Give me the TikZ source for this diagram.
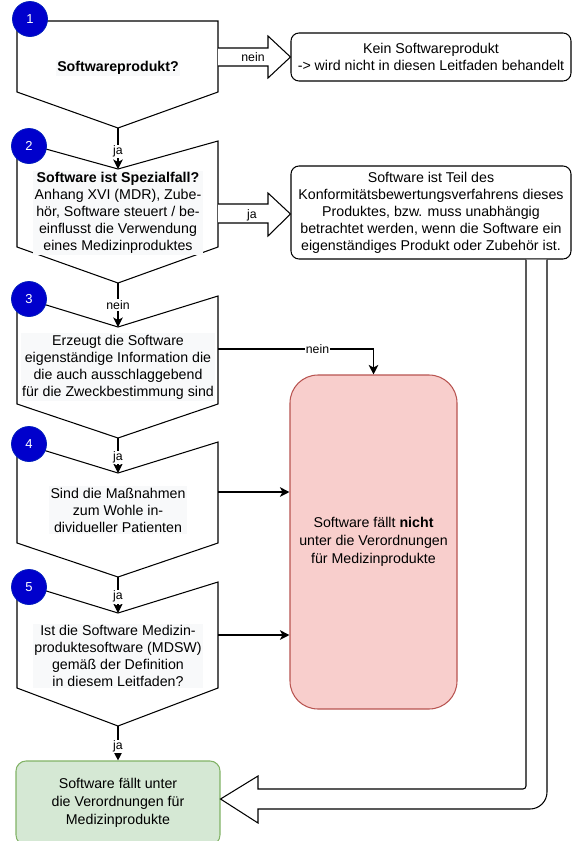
\documentclass[tikz,border=0pt]{standalone}
\usepackage{fontspec}
\setmainfont{Liberation Sans}
\usetikzlibrary{arrows.meta}
\definecolor{badgeblue}{HTML}{0000CC}
\definecolor{badgeedge}{HTML}{001DBC}
\definecolor{redfill}{HTML}{F8CECC}
\definecolor{redline}{HTML}{B85450}
\definecolor{greenfill}{HTML}{D5E8D4}
\definecolor{greenline}{HTML}{82B366}
\definecolor{labelbg}{HTML}{F8F9FA}

\begin{document}
\begin{tikzpicture}[x=1pt,y=-1pt,line join=miter,
  outline/.style={draw=black,line width=1.05pt},
  decision/.style={outline,fill=white},
  qtext/.style={fill=labelbg,inner sep=1.5pt,align=center,
    font=\fontsize{14.2}{17}\selectfont},
  badge/.style={circle,fill=badgeblue,draw=badgeedge,line width=0.8pt,
    minimum size=35pt,inner sep=0pt,text=white,
    font=\fontsize{13}{15}\selectfont},
  flow/.style={line width=1.05pt,-{Stealth[length=9.5pt,width=9.5pt,inset=2.5pt]}},
  edgelabel/.style={fill=white,inner sep=1pt,font=\fontsize{12.3}{14}\selectfont},
  infobox/.style={outline,rounded corners=8pt,fill=white,align=center,
    inner sep=0pt,font=\fontsize{14.2}{17}\selectfont},
  blockarrow/.style={draw=black,line width=1.05pt,fill=white,line join=miter}
]
\useasboundingbox (0,0) rectangle (573,841);
\fill[white] (0,0) rectangle (573,841);

% ---------- decision shapes ----------
\draw[decision] (17,21) -- (218,21) -- (218,92) -- (118,128) -- (17,92) -- cycle;
\draw[decision] (17,141) -- (118,169) -- (218,141) -- (218,247) -- (118,283) -- (17,247) -- cycle;
\draw[decision] (17,296) -- (118,327) -- (218,296) -- (218,404) -- (118,438) -- (17,404) -- cycle;
\draw[decision] (17,442) -- (118,473) -- (218,442) -- (218,543) -- (118,577) -- (17,543) -- cycle;
\draw[decision] (17,582) -- (118,613) -- (218,582) -- (218,688) -- (118,726) -- (17,688) -- cycle;

% tips, notches and side points of the decision shapes
\coordinate (d1tip) at (118,128);
\coordinate (d2top) at (118,169);  \coordinate (d2tip) at (118,283);
\coordinate (d3top) at (118,327);  \coordinate (d3tip) at (118,438);
\coordinate (d4top) at (118,473);  \coordinate (d4tip) at (118,577);
\coordinate (d5top) at (118,613);  \coordinate (d5tip) at (118,726);
\coordinate (d3right) at (218,349);
\coordinate (d4right) at (218,492);
\coordinate (d5right) at (218,635);

\node[qtext] (q1) at (118,68) {\bfseries Softwareprodukt?};
\node[qtext] (q2) at (118,213) {{\bfseries Software ist Spezialfall?}\\Anhang XVI (MDR), Zube-\\hör, Software steuert / be-\\einflusst die Verwendung\\eines Medizinproduktes};
\node[qtext] (q3) at (118,367) {Erzeugt die Software\\eigenständige Information die\\die auch ausschlaggebend\\für die Zweckbestimmung sind};
\node[qtext] (q4) at (118,510) {Sind die Maßnahmen\\zum Wohle in-\\dividueller Patienten};
\node[qtext] (q5) at (118,656) {Ist die Software Medizin-\\produktesoftware (MDSW)\\gemäß der Definition\\in diesem Leitfaden?};

% ---------- result boxes ----------
\node[infobox,minimum width=280pt,minimum height=48pt] (nosw) at (431,57)
  {Kein Softwareprodukt\\-> wird nicht in diesen Leitfaden behandelt};
\node[infobox,minimum width=280pt,minimum height=93pt] (special) at (431,212.5)
  {Software ist Teil des\\Konformitätsbewertungsverfahrens dieses\\Produktes, bzw. muss unabhängig\\betrachtet werden, wenn die Software ein\\eigenständiges Produkt oder Zubehör ist.};
\node[draw=redline,fill=redfill,line width=1.05pt,rounded corners=28pt,
  minimum width=167pt,minimum height=334pt,align=center,
  font=\fontsize{14.2}{18}\selectfont] (notmdr) at (373.5,542)
  {Software fällt \textbf{nicht}\\unter die Verordnungen\\für Medizinprodukte};
\node[draw=greenline,fill=greenfill,line width=1.05pt,rounded corners=10pt,
  minimum width=204pt,minimum height=84pt,align=center,
  font=\fontsize{14.2}{18}\selectfont] (ismdr) at (118,803)
  {Software fällt unter\\die Verordnungen für\\Medizinprodukte};

% ---------- block arrows ----------
\draw[blockarrow] (218,48) -- (268,48) -- (268,36) -- (nosw.west |- 0,57)
  -- (268,78) -- (268,66) -- (218,66);
\node[edgelabel,fill=none] (nein1) at (253,57) {nein};

\draw[blockarrow] (218,204) -- (268,204) -- (268,193) -- (special.west |- 0,214)
  -- (268,236) -- (268,223) -- (218,223);
\node[edgelabel,fill=none] (ja2) at (252,215) {ja};

\draw[blockarrow] (special.south -| 526,0) [rounded corners=3pt] -- (526,789)
  [sharp corners] -- (258,789) -- (258,776) -- (ismdr.east |- 0,799)
  -- (258,823) -- (258,809) [rounded corners=17pt] -- (547,809)
  [sharp corners] -- (special.south -| 547,0);

% ---------- flow connectors ----------
\draw[flow] (d1tip) -- node[edgelabel,pos=0.57] {ja} (d2top);
\draw[flow] (d2tip) -- node[edgelabel,pos=0.5] {nein} (d3top);
\draw[flow] (d3tip) -- node[edgelabel,pos=0.55] {ja} (d4top);
\draw[flow] (d4tip) -- node[edgelabel,pos=0.55] {ja} (d5top);
\draw[flow] (d5tip) -- node[edgelabel,pos=0.6] {ja} (ismdr.north);
\draw[flow] (d3right) -- node[edgelabel,pos=0.64] {nein} (notmdr.north |- d3right) -- (notmdr.north);
\draw[flow] (d4right) -- (d4right -| notmdr.west);
\draw[flow] (d5right) -- (d5right -| notmdr.west);

% ---------- step badges ----------
\node[badge] (b1) at (30,19) {1};
\node[badge] (b2) at (29,146) {2};
\node[badge] (b3) at (29,299) {3};
\node[badge] (b4) at (29,444) {4};
\node[badge] (b5) at (29,587) {5};
\end{tikzpicture}
\end{document}
